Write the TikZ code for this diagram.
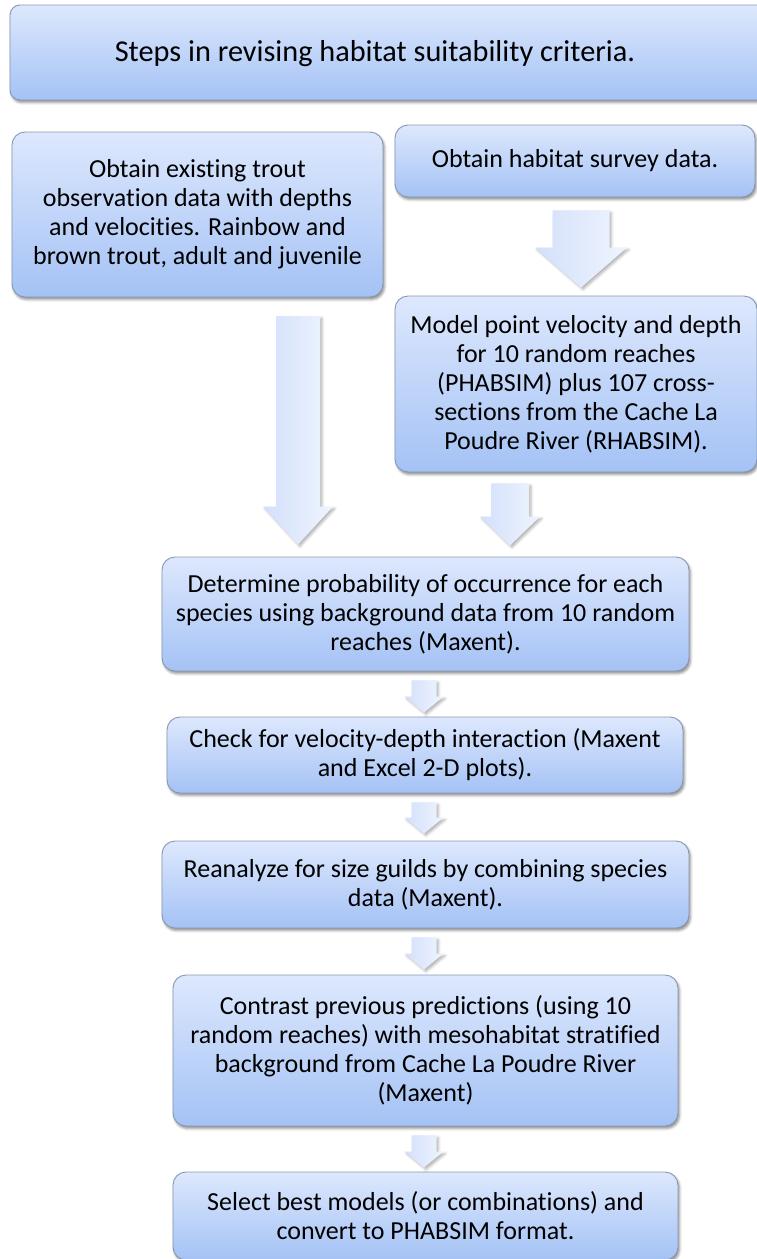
\documentclass[tikz,border=0pt]{standalone}
\usepackage{fontspec}
\setmainfont{Carlito}[Ligatures=NoCommon]
\usetikzlibrary{shadows.blur,calc}

\definecolor{boxtop}{HTML}{DDE8FD}
\definecolor{boxbot}{HTML}{A4C2F5}
\definecolor{boxline}{HTML}{8797B0}
\definecolor{arrowleft}{HTML}{D3E0FB}
\definecolor{arrowright}{HTML}{EFF4FE}

\tikzset{
  stepbox/.style={draw=boxline, line width=0.9pt, rounded corners=13pt,
    top color=boxtop, bottom color=boxbot,
    blur shadow={shadow xshift=1.5pt, shadow yshift=-2.5pt,
      shadow blur radius=2.5pt, shadow opacity=45},
    align=center, inner sep=0pt,
    font=\fontsize{26}{29}\selectfont},
  titletext/.style={font=\fontsize{30.3}{33}\selectfont, inner sep=0pt},
  blockarrow/.style={left color=arrowleft, right color=arrowright, draw=none,
    blur shadow={shadow xshift=2pt, shadow yshift=-2pt,
      shadow blur radius=2.5pt, shadow opacity=30}},
}

% #1 top of shaft, #2 tip, #3 half shaft width, #4 half head width, #5 head length
\newcommand\downarrowshape[5]{%
  \path let \p1=(#1), \p2=(#2) in [blockarrow]
    (\x1-#3pt,\y1) -- (\x1+#3pt,\y1) -- (\x1+#3pt,\y2+#5pt) --
    (\x1+#4pt,\y2+#5pt) -- (\x1,\y2) -- (\x1-#4pt,\y2+#5pt) --
    (\x1-#3pt,\y2+#5pt) -- cycle;}

\begin{document}
\begin{tikzpicture}[x=1pt,y=-1pt]
\useasboundingbox (0,0) rectangle (757,1259);

% heading
\node[stepbox, rounded corners=10pt, minimum width=790pt, minimum height=95pt] (titlebox) at (405,52.5) {};
\node[titletext] (title) at (375,53.5) {Steps in revising habitat suitability criteria.};

% two input branches
\node[stepbox, minimum width=371pt, minimum height=165pt] (obs) at (197.5,214.5)
  {Obtain existing trout\\observation data with depths\\and velocities. Rainbow and\\brown trout, adult and juvenile};
\node[stepbox, minimum width=360pt, minimum height=72pt] (survey) at (575,161)
  {Obtain habitat survey data.};
\node[stepbox, minimum width=362pt, minimum height=176pt] (model) at (576,384)
  {Model point velocity and depth\\for 10 random reaches\\(PHABSIM) plus 107 cross-\\sections from the Cache La\\Poudre River (RHABSIM).};

% main sequence
\node[stepbox, minimum width=527pt, minimum height=114pt] (prob) at (425.5,614)
  {Determine probability of occurrence for each\\species using background data from 10 random\\reaches (Maxent).};
\node[stepbox, minimum width=516pt, minimum height=76pt] (interact) at (425,755)
  {Check for velocity-depth interaction (Maxent\\and Excel 2-D plots).};
\node[stepbox, minimum width=527pt, minimum height=87pt] (guilds) at (425.5,884.5)
  {Reanalyze for size guilds by combining species\\data (Maxent).};
\node[stepbox, minimum width=505pt, minimum height=151pt] (contrast) at (425.5,1050.5)
  {Contrast previous predictions (using 10\\random reaches) with mesohabitat stratified\\background from Cache La Poudre River\\(Maxent)};
\node[stepbox, minimum width=505pt, minimum height=88pt] (select) at (425.5,1216)
  {Select best models (or combinations) and\\convert to PHABSIM format.};

% arrow ends
\coordinate (s1) at ($(survey.south)+(6,13)$);
\coordinate (t1) at ($(model.north)+(6,-8)$);
\coordinate (s2) at (298,316);
\coordinate (t2) at ($(prob.north -| 298,0)+(0,-12)$);
\coordinate (s3) at ($(model.south -| 510,0)+(0,11)$);
\coordinate (t3) at ($(prob.north -| 510,0)+(0,-11)$);
\coordinate (s4) at ($(prob.south -| 424,0)+(0,9)$);
\coordinate (t4) at ($(interact.north -| 424,0)+(0,-4)$);
\coordinate (s5) at ($(interact.south -| 424,0)+(0,9)$);
\coordinate (t5) at ($(guilds.north -| 424,0)+(0,-7)$);
\coordinate (s6) at ($(guilds.south -| 424,0)+(0,9)$);
\coordinate (t6) at ($(contrast.north -| 424,0)+(0,-5)$);
\coordinate (s7) at ($(contrast.south -| 424,0)+(0,9)$);
\coordinate (t7) at ($(select.north -| 424,0)+(0,-4)$);

% block arrows
\downarrowshape{s1}{t1}{28.5}{46}{40}
\downarrowshape{s2}{t2}{22}{35}{38}
\downarrowshape{s3}{t3}{19}{30}{29}
\downarrowshape{s4}{t4}{12.5}{19.5}{16}
\downarrowshape{s5}{t5}{12.5}{19.5}{16}
\downarrowshape{s6}{t6}{12.5}{19.5}{16}
\downarrowshape{s7}{t7}{12.5}{19.5}{16}
\end{tikzpicture}
\end{document}
